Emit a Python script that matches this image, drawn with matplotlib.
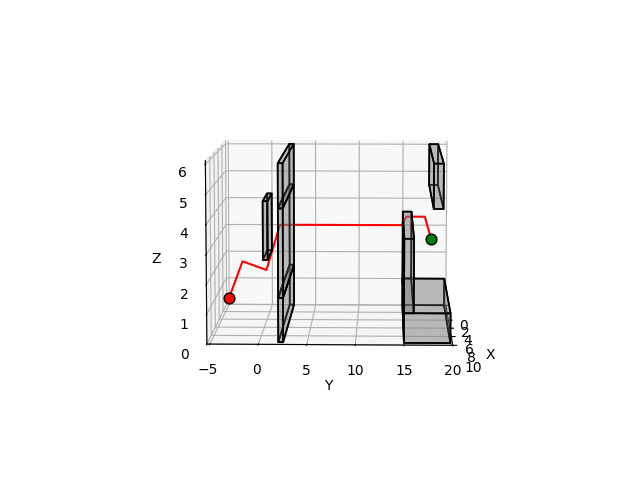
import numpy as np
from matplotlib import pyplot as plt

# boxes: x0, y0, z0, dx, dy, dz
box_x = [0, 0, 0, 5, 0, 0, 0]
box_y = [2, 2, 2, 0.2, 15, 15, 18]
box_z = [0, 1.5, 4.5, 2.6, 0, 1, 4.5]
box_dx = [9.5, 9.5, 9.5, 3, 9.5, 9.5, 9.5]
box_dy = [0.5, 0.5, 0.5, 0.5, 4.8, 1, 1]
box_dz = [1.5, 3, 1.5, 2, 1, 2.5, 1.5]

# path
path_x = [5, 5, 5, 5, 5, 5, 5, 5]
path_y = [-4, -2.5, 0.1, 1.6, 14.8, 15.3, 17.3, 18]
path_z = [0.9, 2.2, 1.9, 3.5, 3.5, 3.8, 3.8, 3]

fig = plt.figure()
ax = fig.add_subplot(projection='3d')

ax.bar3d(box_x, box_y, box_z, box_dx, box_dy, box_dz, color=(0.5, 0.5, 0.5, 0.3),
         edgecolor='k', linewidth=1.2, shade=False)
ax.plot(path_x, path_y, path_z, color='red')
ax.scatter(path_x[0], path_y[0], path_z[0], color='red', edgecolor='k', s=60, depthshade=False)
ax.scatter(path_x[-1], path_y[-1], path_z[-1], color='green', edgecolor='k', s=60, depthshade=False)

ax.set_xlim(0, 10)
ax.set_ylim(-5.3, 20)
ax.set_zlim(0, 6.12)
ax.set_xticks([0, 2, 4, 6, 8, 10])
ax.set_yticks([-5, 0, 5, 10, 15, 20])
ax.set_zticks([0, 1, 2, 3, 4, 5, 6])
ax.set_xlabel('X')
ax.set_ylabel('Y')
ax.set_zlabel('Z')
ax.view_init(elev=7.4, azim=1.6)
ax.set_box_aspect((4, 4, 3), zoom=0.98)

plt.savefig('out.png', dpi=100)
